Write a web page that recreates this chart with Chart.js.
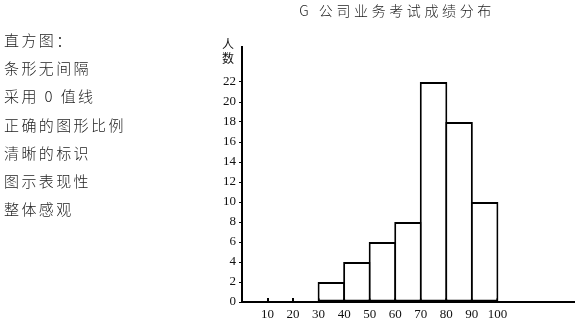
<!DOCTYPE html>
<html>
<head>
<meta charset="utf-8">
<script src="https://cdn.jsdelivr.net/npm/chart.js@4/dist/chart.umd.min.js"></script>
<style>
  html, body { margin: 0; padding: 0; background: #fff; }
  #wrap { position: relative; width: 582px; height: 327px; overflow: hidden; }
  #c { position: absolute; left: 0; top: 0; }
  .notes { position: absolute; left: 4px; top: 26px; font-family: "Noto Sans CJK SC", sans-serif;
           font-weight: 300; font-size: 15px; line-height: 28.2px; letter-spacing: 2.4px; color: #222; }
  .title { position: absolute; left: 297px; width: 200px; top: 0px; text-align: center;
           font-family: "Noto Sans CJK SC", sans-serif; font-weight: 300; font-size: 14px;
           letter-spacing: 3.6px; color: #222; white-space: nowrap; }
  .ylab { position: absolute; left: 222px; top: 37px; font-family: "Noto Sans CJK SC", sans-serif;
          font-size: 12px; line-height: 14px; color: #111; width: 14px; }
</style>
</head>
<body>
<div id="wrap">
  <canvas id="c" width="582" height="327"></canvas>
  <div class="title">G 公司业务考试成绩分布</div>
  <div class="ylab">人<br>数</div>
  <div class="notes">
    <div>直方图：</div>
    <div>条形无间隔</div>
    <div>采用 0 值线</div>
    <div>正确的图形比例</div>
    <div>清晰的标识</div>
    <div>图示表现性</div>
    <div>整体感观</div>
  </div>
</div>
<script>
// ---- data ----
const binLower = [30, 40, 50, 60, 70, 80, 90];   // score bins (lower edge, width 10)
const counts   = [2, 4, 6, 8, 22, 18, 10];         // number of people
const xTickValues = [10, 20, 30, 40, 50, 60, 70, 80, 90, 100];
const yTickValues = [0, 2, 4, 6, 8, 10, 12, 14, 16, 18, 20, 22];
const binWidth = 10;

const points = binLower.map((lo, i) => ({ x: lo + binWidth / 2, y: counts[i] }));

const innerTicks = {
  id: 'innerTicks',
  beforeDatasetsDraw(chart) {
    const xs = chart.scales.x, ctx = chart.ctx, base = chart.chartArea.bottom;
    ctx.save();
    ctx.strokeStyle = '#000';
    ctx.lineWidth = 2;
    xTickValues.forEach(v => {
      const px = Math.round(xs.getPixelForValue(v));
      ctx.beginPath();
      ctx.moveTo(px, base);
      ctx.lineTo(px, base - 4);
      ctx.stroke();
    });
    ctx.restore();
  }
};

new Chart(document.getElementById('c'), {
  type: 'bar',
  data: {
    datasets: [{
      data: points,
      backgroundColor: '#fff',
      borderColor: '#000',
      borderWidth: 2,
      borderSkipped: false,
      barPercentage: 1.078,   // bins touch; neighbouring borders overlap into one line
      categoryPercentage: 1
    }]
  },
  options: {
    responsive: false,
    animation: false,
    layout: { padding: { left: 202, right: 8, top: 47, bottom: 0 } },
    plugins: { legend: { display: false }, tooltip: { enabled: false }, title: { display: false } },
    scales: {
      x: {
        type: 'linear',
        min: 0,
        max: 130,
        offset: false,
        afterBuildTicks: s => { s.ticks = xTickValues.map(v => ({ value: v })); },
        afterFit: s => { s.height = 25; },
        grid: { display: false, drawTicks: false, offset: false },
        border: { display: true, color: '#000', width: 2 },
        ticks: {
          padding: 5,
          color: '#111',
          font: { family: '"Liberation Serif", serif', size: 13 },
          maxRotation: 0,
          autoSkip: false
        }
      },
      y: {
        min: 0,
        max: 25.5,
        afterBuildTicks: s => { s.ticks = yTickValues.map(v => ({ value: v })); },
        afterFit: s => { s.width = 40; },
        grid: { drawOnChartArea: false, drawTicks: true, tickLength: 3, color: '#000', lineWidth: 1 },
        border: { display: true, color: '#000', width: 2 },
        ticks: {
          padding: 3,
          color: '#111',
          font: { family: '"Liberation Serif", serif', size: 13 },
          autoSkip: false
        }
      }
    }
  },
  plugins: [innerTicks]
});
</script>
</body>
</html>
